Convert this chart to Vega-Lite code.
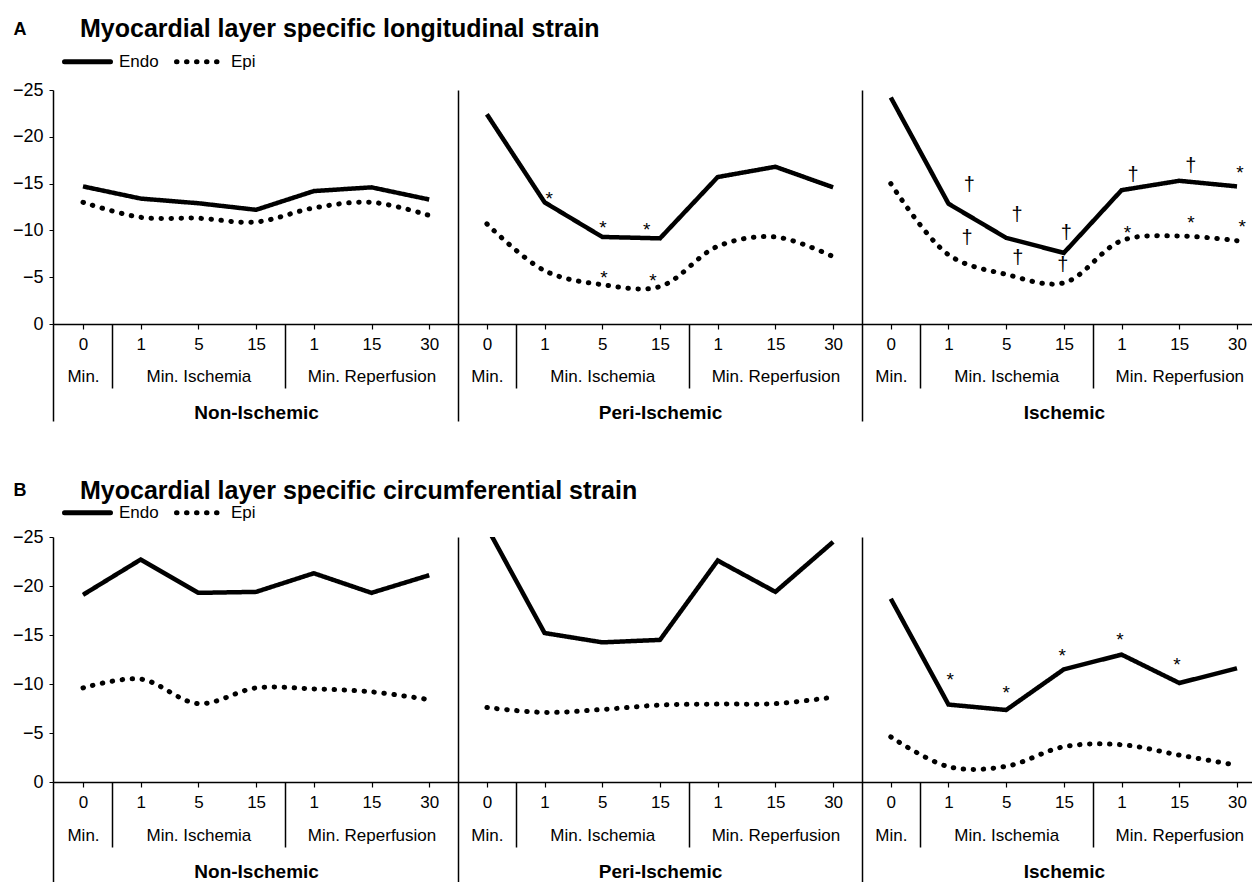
{
  "$schema": "https://vega.github.io/schema/vega-lite/v6.json",
  "padding": {"left": 12, "top": 17, "right": 0, "bottom": 0},
  "config": {
    "font": "Liberation Sans",
    "view": {"stroke": null},
    "axis": {"labelColor": "black", "tickColor": "black", "domainColor": "black"},
    "title": {"color": "black"}
  },
  "resolve": {"legend": {"strokeDash": "independent"}, "scale": {"strokeDash": "independent"}},
  "datasets": {
    "lines": [
      {"chart": "A", "panel": "Non-Ischemic", "layer": "Endo", "idx": 0, "value": -14.7},
      {"chart": "A", "panel": "Non-Ischemic", "layer": "Endo", "idx": 1, "value": -13.4},
      {"chart": "A", "panel": "Non-Ischemic", "layer": "Endo", "idx": 2, "value": -12.9},
      {"chart": "A", "panel": "Non-Ischemic", "layer": "Endo", "idx": 3, "value": -12.2},
      {"chart": "A", "panel": "Non-Ischemic", "layer": "Endo", "idx": 4, "value": -14.2},
      {"chart": "A", "panel": "Non-Ischemic", "layer": "Endo", "idx": 5, "value": -14.6},
      {"chart": "A", "panel": "Non-Ischemic", "layer": "Endo", "idx": 6, "value": -13.3},
      {"chart": "A", "panel": "Peri-Ischemic", "layer": "Endo", "idx": 7, "value": -22.4},
      {"chart": "A", "panel": "Peri-Ischemic", "layer": "Endo", "idx": 8, "value": -13.0},
      {"chart": "A", "panel": "Peri-Ischemic", "layer": "Endo", "idx": 9, "value": -9.3},
      {"chart": "A", "panel": "Peri-Ischemic", "layer": "Endo", "idx": 10, "value": -9.15},
      {"chart": "A", "panel": "Peri-Ischemic", "layer": "Endo", "idx": 11, "value": -15.7},
      {"chart": "A", "panel": "Peri-Ischemic", "layer": "Endo", "idx": 12, "value": -16.8},
      {"chart": "A", "panel": "Peri-Ischemic", "layer": "Endo", "idx": 13, "value": -14.6},
      {"chart": "A", "panel": "Ischemic", "layer": "Endo", "idx": 14, "value": -24.2},
      {"chart": "A", "panel": "Ischemic", "layer": "Endo", "idx": 15, "value": -12.85},
      {"chart": "A", "panel": "Ischemic", "layer": "Endo", "idx": 16, "value": -9.2},
      {"chart": "A", "panel": "Ischemic", "layer": "Endo", "idx": 17, "value": -7.6},
      {"chart": "A", "panel": "Ischemic", "layer": "Endo", "idx": 18, "value": -14.3},
      {"chart": "A", "panel": "Ischemic", "layer": "Endo", "idx": 19, "value": -15.3},
      {"chart": "A", "panel": "Ischemic", "layer": "Endo", "idx": 20, "value": -14.7},
      {"chart": "A", "panel": "Non-Ischemic", "layer": "Epi", "idx": 0, "value": -13.0},
      {"chart": "A", "panel": "Non-Ischemic", "layer": "Epi", "idx": 1, "value": -11.4},
      {"chart": "A", "panel": "Non-Ischemic", "layer": "Epi", "idx": 2, "value": -11.3},
      {"chart": "A", "panel": "Non-Ischemic", "layer": "Epi", "idx": 3, "value": -10.9},
      {"chart": "A", "panel": "Non-Ischemic", "layer": "Epi", "idx": 4, "value": -12.4},
      {"chart": "A", "panel": "Non-Ischemic", "layer": "Epi", "idx": 5, "value": -13.0},
      {"chart": "A", "panel": "Non-Ischemic", "layer": "Epi", "idx": 6, "value": -11.6},
      {"chart": "A", "panel": "Peri-Ischemic", "layer": "Epi", "idx": 7, "value": -10.7},
      {"chart": "A", "panel": "Peri-Ischemic", "layer": "Epi", "idx": 8, "value": -5.7},
      {"chart": "A", "panel": "Peri-Ischemic", "layer": "Epi", "idx": 9, "value": -4.2},
      {"chart": "A", "panel": "Peri-Ischemic", "layer": "Epi", "idx": 10, "value": -4.0},
      {"chart": "A", "panel": "Peri-Ischemic", "layer": "Epi", "idx": 11, "value": -8.3},
      {"chart": "A", "panel": "Peri-Ischemic", "layer": "Epi", "idx": 12, "value": -9.3},
      {"chart": "A", "panel": "Peri-Ischemic", "layer": "Epi", "idx": 13, "value": -7.2},
      {"chart": "A", "panel": "Ischemic", "layer": "Epi", "idx": 14, "value": -15.0},
      {"chart": "A", "panel": "Ischemic", "layer": "Epi", "idx": 15, "value": -7.4},
      {"chart": "A", "panel": "Ischemic", "layer": "Epi", "idx": 16, "value": -5.3},
      {"chart": "A", "panel": "Ischemic", "layer": "Epi", "idx": 17, "value": -4.4},
      {"chart": "A", "panel": "Ischemic", "layer": "Epi", "idx": 18, "value": -8.9},
      {"chart": "A", "panel": "Ischemic", "layer": "Epi", "idx": 19, "value": -9.4},
      {"chart": "A", "panel": "Ischemic", "layer": "Epi", "idx": 20, "value": -8.9},
      {"chart": "B", "panel": "Non-Ischemic", "layer": "Endo", "idx": 0, "value": -19.1},
      {"chart": "B", "panel": "Non-Ischemic", "layer": "Endo", "idx": 1, "value": -22.7},
      {"chart": "B", "panel": "Non-Ischemic", "layer": "Endo", "idx": 2, "value": -19.3},
      {"chart": "B", "panel": "Non-Ischemic", "layer": "Endo", "idx": 3, "value": -19.4},
      {"chart": "B", "panel": "Non-Ischemic", "layer": "Endo", "idx": 4, "value": -21.3},
      {"chart": "B", "panel": "Non-Ischemic", "layer": "Endo", "idx": 5, "value": -19.3},
      {"chart": "B", "panel": "Non-Ischemic", "layer": "Endo", "idx": 6, "value": -21.1},
      {"chart": "B", "panel": "Peri-Ischemic", "layer": "Endo", "idx": 7, "value": -26.0},
      {"chart": "B", "panel": "Peri-Ischemic", "layer": "Endo", "idx": 8, "value": -15.2},
      {"chart": "B", "panel": "Peri-Ischemic", "layer": "Endo", "idx": 9, "value": -14.25},
      {"chart": "B", "panel": "Peri-Ischemic", "layer": "Endo", "idx": 10, "value": -14.5},
      {"chart": "B", "panel": "Peri-Ischemic", "layer": "Endo", "idx": 11, "value": -22.6},
      {"chart": "B", "panel": "Peri-Ischemic", "layer": "Endo", "idx": 12, "value": -19.4},
      {"chart": "B", "panel": "Peri-Ischemic", "layer": "Endo", "idx": 13, "value": -24.5},
      {"chart": "B", "panel": "Ischemic", "layer": "Endo", "idx": 14, "value": -18.7},
      {"chart": "B", "panel": "Ischemic", "layer": "Endo", "idx": 15, "value": -7.9},
      {"chart": "B", "panel": "Ischemic", "layer": "Endo", "idx": 16, "value": -7.35},
      {"chart": "B", "panel": "Ischemic", "layer": "Endo", "idx": 17, "value": -11.5},
      {"chart": "B", "panel": "Ischemic", "layer": "Endo", "idx": 18, "value": -13.0},
      {"chart": "B", "panel": "Ischemic", "layer": "Endo", "idx": 19, "value": -10.1},
      {"chart": "B", "panel": "Ischemic", "layer": "Endo", "idx": 20, "value": -11.6},
      {"chart": "B", "panel": "Non-Ischemic", "layer": "Epi", "idx": 0, "value": -9.6},
      {"chart": "B", "panel": "Non-Ischemic", "layer": "Epi", "idx": 1, "value": -10.5},
      {"chart": "B", "panel": "Non-Ischemic", "layer": "Epi", "idx": 2, "value": -8.0},
      {"chart": "B", "panel": "Non-Ischemic", "layer": "Epi", "idx": 3, "value": -9.6},
      {"chart": "B", "panel": "Non-Ischemic", "layer": "Epi", "idx": 4, "value": -9.5},
      {"chart": "B", "panel": "Non-Ischemic", "layer": "Epi", "idx": 5, "value": -9.2},
      {"chart": "B", "panel": "Non-Ischemic", "layer": "Epi", "idx": 6, "value": -8.4},
      {"chart": "B", "panel": "Peri-Ischemic", "layer": "Epi", "idx": 7, "value": -7.6},
      {"chart": "B", "panel": "Peri-Ischemic", "layer": "Epi", "idx": 8, "value": -7.1},
      {"chart": "B", "panel": "Peri-Ischemic", "layer": "Epi", "idx": 9, "value": -7.4},
      {"chart": "B", "panel": "Peri-Ischemic", "layer": "Epi", "idx": 10, "value": -7.85},
      {"chart": "B", "panel": "Peri-Ischemic", "layer": "Epi", "idx": 11, "value": -7.95},
      {"chart": "B", "panel": "Peri-Ischemic", "layer": "Epi", "idx": 12, "value": -8.0},
      {"chart": "B", "panel": "Peri-Ischemic", "layer": "Epi", "idx": 13, "value": -8.65},
      {"chart": "B", "panel": "Ischemic", "layer": "Epi", "idx": 14, "value": -4.6},
      {"chart": "B", "panel": "Ischemic", "layer": "Epi", "idx": 15, "value": -1.56},
      {"chart": "B", "panel": "Ischemic", "layer": "Epi", "idx": 16, "value": -1.6},
      {"chart": "B", "panel": "Ischemic", "layer": "Epi", "idx": 17, "value": -3.6},
      {"chart": "B", "panel": "Ischemic", "layer": "Epi", "idx": 18, "value": -3.8},
      {"chart": "B", "panel": "Ischemic", "layer": "Epi", "idx": 19, "value": -2.75},
      {"chart": "B", "panel": "Ischemic", "layer": "Epi", "idx": 20, "value": -1.7}
    ],
    "marks": [
      {"chart": "A", "sym": "*", "idx": 8.08, "value": -13.9},
      {"chart": "A", "sym": "*", "idx": 9.01, "value": -10.8},
      {"chart": "A", "sym": "*", "idx": 9.77, "value": -10.6},
      {"chart": "A", "sym": "*", "idx": 9.03, "value": -5.45},
      {"chart": "A", "sym": "*", "idx": 9.88, "value": -5.1},
      {"chart": "A", "sym": "*", "idx": 20.05, "value": -16.7},
      {"chart": "A", "sym": "*", "idx": 18.1, "value": -10.3},
      {"chart": "A", "sym": "*", "idx": 19.2, "value": -11.3},
      {"chart": "A", "sym": "*", "idx": 20.09, "value": -10.9},
      {"chart": "A", "sym": "†", "idx": 15.36, "value": -14.85},
      {"chart": "A", "sym": "†", "idx": 16.19, "value": -11.6},
      {"chart": "A", "sym": "†", "idx": 17.04, "value": -9.7},
      {"chart": "A", "sym": "†", "idx": 18.2, "value": -15.9},
      {"chart": "A", "sym": "†", "idx": 19.2, "value": -16.9},
      {"chart": "A", "sym": "†", "idx": 15.32, "value": -9.2},
      {"chart": "A", "sym": "†", "idx": 16.2, "value": -7.05},
      {"chart": "A", "sym": "†", "idx": 16.98, "value": -6.3},
      {"chart": "B", "sym": "*", "idx": 15.03, "value": -10.9},
      {"chart": "B", "sym": "*", "idx": 16.0, "value": -9.6},
      {"chart": "B", "sym": "*", "idx": 16.97, "value": -13.4},
      {"chart": "B", "sym": "*", "idx": 17.97, "value": -15.0},
      {"chart": "B", "sym": "*", "idx": 18.96, "value": -12.45}
    ]
  },
  "spacing": 56,
  "vconcat": [
    {
      "title": {"text": "A", "anchor": "start", "frame": "bounds", "fontSize": 18, "fontWeight": "bold", "offset": -22, "dx": 1},
      "resolve": {"legend": {"strokeDash": "independent"}, "scale": {"strokeDash": "independent"}},
      "vconcat": [
        {
          "width": 1199,
          "height": 234,
          "title": {"text": "Myocardial layer specific longitudinal strain", "anchor": "start", "frame": "group", "dx": 27, "fontSize": 25, "fontWeight": "bold", "offset": -15},
          "layer": [
            {
              "data": {"name": "lines"},
              "transform": [{"filter": "datum.chart == 'A' && datum.layer == 'Endo'"}],
              "mark": {"type": "line", "color": "black", "strokeWidth": 4.5, "clip": true},
              "encoding": {
                "x": {"field": "idx", "type": "quantitative", "scale": {"domain": [-0.52, 20.26], "nice": false, "zero": false},
                  "axis": {"orient": "bottom", "title": null, "values": [0,1,2,3,4,5,6,7,8,9,10,11,12,13,14,15,16,17,18,19,20], "labelExpr": "['0','1','5','15','1','15','30'][datum.value % 7]", "grid": false, "domainWidth": 1.5, "tickSize": 5, "tickWidth": 1.2, "labelFontSize": 17, "labelPadding": 7, "labelFlush": false, "labelOverlap": false}},
                "y": {"field": "value", "type": "quantitative", "scale": {"domain": [-25, 0], "reverse": true, "nice": false, "zero": false},
                  "axis": {"title": null, "values": [-25,-20,-15,-10,-5,0], "labelExpr": "datum.value == 0 ? '0' : '−' + abs(datum.value)", "grid": false, "domainWidth": 1.5, "tickSize": 4, "labelPadding": 6, "labelFontSize": 18}},
                "detail": {"field": "panel"},
                "strokeDash": {"field": "layer", "type": "nominal", "scale": {"domain": ["Endo", "Epi"], "range": [[1, 0], [0.5, 9.5]]},
                  "legend": {"title": null, "orient": "top", "direction": "horizontal", "symbolType": "stroke", "symbolSize": 2116, "symbolStrokeWidth": 5, "symbolStrokeColor": "black", "labelFontSize": 17, "labelColor": "black", "labelOffset": 6, "columnPadding": 7, "offset": 9, "padding": 9, "encode": {"symbols": {"update": {"strokeCap": {"value": "round"}}}}}}
              }
            },
            {
              "data": {"name": "lines"},
              "transform": [{"filter": "datum.chart == 'A' && datum.layer == 'Epi'"}],
              "mark": {"type": "line", "color": "black", "strokeWidth": 5, "strokeCap": "round", "interpolate": "catmull-rom", "clip": true},
              "encoding": {
                "x": {"field": "idx", "type": "quantitative",
                  "axis": {"orient": "bottom", "title": null, "values": [0,2,5,7,9,12,14,16,19], "labelExpr": "['Min.','','Min. Ischemia','','','Min. Reperfusion',''][datum.value % 7]", "domain": false, "ticks": false, "grid": false, "labelFontSize": 17, "labelPadding": 44, "labelFlush": false, "labelOverlap": false}},
                "y": {"field": "value", "type": "quantitative",
                  "axis": {"title": null, "values": [-25,-20,-15,-10,-5,0], "labelExpr": "datum.value == 0 ? '0' : '−' + abs(datum.value)", "grid": false, "domainWidth": 1.5, "tickSize": 4, "labelPadding": 6, "labelFontSize": 18}},
                "detail": {"field": "panel"},
                "strokeDash": {"field": "layer", "type": "nominal"}
              }
            },
            {
              "data": {"name": "marks"},
              "transform": [{"filter": "datum.chart == 'A' && datum.sym == '†'"}],
              "mark": {"type": "text", "color": "black", "fontSize": 20, "baseline": "middle"},
              "encoding": {
                "x": {"field": "idx", "type": "quantitative",
                  "axis": {"orient": "bottom", "title": null, "values": [-0.52, 0.5, 3.5, 6.5, 7.5, 10.5, 13.5, 14.5, 17.5], "labels": false, "domain": false, "ticks": true, "tickWidth": 1.5,
                    "tickSize": {"condition": {"test": "datum.value < 0 || datum.value == 6.5 || datum.value == 13.5", "value": 97}, "value": 64},
                    "grid": true, "gridColor": "black", "gridWidth": 1.5,
                    "gridOpacity": {"condition": {"test": "datum.value == 6.5 || datum.value == 13.5", "value": 1}, "value": 0}}},
                "y": {"field": "value", "type": "quantitative",
                  "axis": {"title": null, "values": [-25,-20,-15,-10,-5,0], "labelExpr": "datum.value == 0 ? '0' : '−' + abs(datum.value)", "grid": false, "domainWidth": 1.5, "tickSize": 4, "labelPadding": 6, "labelFontSize": 18}},
                "text": {"field": "sym"}
              }
            },
            {
              "data": {"name": "marks"},
              "transform": [{"filter": "datum.chart == 'A' && datum.sym == '*'"}],
              "mark": {"type": "text", "color": "black", "fontSize": 19, "baseline": "middle", "dy": 5},
              "encoding": {
                "x": {"field": "idx", "type": "quantitative",
                  "axis": {"orient": "bottom", "title": null, "values": [3, 10, 17], "labelExpr": "datum.value == 3 ? 'Non-Ischemic' : datum.value == 10 ? 'Peri-Ischemic' : 'Ischemic'", "domain": false, "ticks": false, "grid": false, "labelFontSize": 19, "labelFontWeight": "bold", "labelPadding": 79, "labelFlush": false, "labelOverlap": false}},
                "y": {"field": "value", "type": "quantitative",
                  "axis": {"title": null, "values": [-25,-20,-15,-10,-5,0], "labelExpr": "datum.value == 0 ? '0' : '−' + abs(datum.value)", "grid": false, "domainWidth": 1.5, "tickSize": 4, "labelPadding": 6, "labelFontSize": 18}},
                "text": {"field": "sym"}
              }
            }
          ],
          "resolve": {"axis": {"x": "independent"}}
        }
      ]
    },
    {
      "title": {"text": "B", "anchor": "start", "frame": "bounds", "fontSize": 18, "fontWeight": "bold", "offset": -22, "dx": 1},
      "resolve": {"legend": {"strokeDash": "independent"}, "scale": {"strokeDash": "independent"}},
      "vconcat": [
        {
          "width": 1199,
          "height": 245,
          "title": {"text": "Myocardial layer specific circumferential strain", "anchor": "start", "frame": "group", "dx": 27, "fontSize": 25, "fontWeight": "bold", "offset": -26},
          "layer": [
            {
              "data": {"name": "lines"},
              "transform": [{"filter": "datum.chart == 'B' && datum.layer == 'Endo'"}],
              "mark": {"type": "line", "color": "black", "strokeWidth": 4.5, "clip": true},
              "encoding": {
                "x": {"field": "idx", "type": "quantitative", "scale": {"domain": [-0.52, 20.26], "nice": false, "zero": false},
                  "axis": {"orient": "bottom", "title": null, "values": [0,1,2,3,4,5,6,7,8,9,10,11,12,13,14,15,16,17,18,19,20], "labelExpr": "['0','1','5','15','1','15','30'][datum.value % 7]", "grid": false, "domainWidth": 1.5, "tickSize": 5, "tickWidth": 1.2, "labelFontSize": 17, "labelPadding": 7, "labelFlush": false, "labelOverlap": false}},
                "y": {"field": "value", "type": "quantitative", "scale": {"domain": [-25, 0], "reverse": true, "nice": false, "zero": false},
                  "axis": {"title": null, "values": [-25,-20,-15,-10,-5,0], "labelExpr": "datum.value == 0 ? '0' : '−' + abs(datum.value)", "grid": false, "domainWidth": 1.5, "tickSize": 4, "labelPadding": 6, "labelFontSize": 18}},
                "detail": {"field": "panel"},
                "strokeDash": {"field": "layer", "type": "nominal", "scale": {"domain": ["Endo", "Epi"], "range": [[1, 0], [0.5, 9.5]]},
                  "legend": {"title": null, "orient": "top", "direction": "horizontal", "symbolType": "stroke", "symbolSize": 2116, "symbolStrokeWidth": 5, "symbolStrokeColor": "black", "labelFontSize": 17, "labelColor": "black", "labelOffset": 6, "columnPadding": 7, "offset": 5, "padding": 9, "encode": {"symbols": {"update": {"strokeCap": {"value": "round"}}}}}}
              }
            },
            {
              "data": {"name": "lines"},
              "transform": [{"filter": "datum.chart == 'B' && datum.layer == 'Epi'"}],
              "mark": {"type": "line", "color": "black", "strokeWidth": 5, "strokeCap": "round", "interpolate": "catmull-rom", "clip": true},
              "encoding": {
                "x": {"field": "idx", "type": "quantitative",
                  "axis": {"orient": "bottom", "title": null, "values": [0,2,5,7,9,12,14,16,19], "labelExpr": "['Min.','','Min. Ischemia','','','Min. Reperfusion',''][datum.value % 7]", "domain": false, "ticks": false, "grid": false, "labelFontSize": 17, "labelPadding": 45, "labelFlush": false, "labelOverlap": false}},
                "y": {"field": "value", "type": "quantitative",
                  "axis": {"title": null, "values": [-25,-20,-15,-10,-5,0], "labelExpr": "datum.value == 0 ? '0' : '−' + abs(datum.value)", "grid": false, "domainWidth": 1.5, "tickSize": 4, "labelPadding": 6, "labelFontSize": 18}},
                "detail": {"field": "panel"},
                "strokeDash": {"field": "layer", "type": "nominal"}
              }
            },
            {
              "data": {"name": "marks"},
              "transform": [{"filter": "datum.chart == 'B' && datum.sym == '†'"}],
              "mark": {"type": "text", "color": "black", "fontSize": 20, "baseline": "middle"},
              "encoding": {
                "x": {"field": "idx", "type": "quantitative",
                  "axis": {"orient": "bottom", "title": null, "values": [-0.52, 0.5, 3.5, 6.5, 7.5, 10.5, 13.5, 14.5, 17.5], "labels": false, "domain": false, "ticks": true, "tickWidth": 1.5,
                    "tickSize": {"condition": {"test": "datum.value < 0 || datum.value == 6.5 || datum.value == 13.5", "value": 100}, "value": 65},
                    "grid": true, "gridColor": "black", "gridWidth": 1.5,
                    "gridOpacity": {"condition": {"test": "datum.value == 6.5 || datum.value == 13.5", "value": 1}, "value": 0}}},
                "y": {"field": "value", "type": "quantitative",
                  "axis": {"title": null, "values": [-25,-20,-15,-10,-5,0], "labelExpr": "datum.value == 0 ? '0' : '−' + abs(datum.value)", "grid": false, "domainWidth": 1.5, "tickSize": 4, "labelPadding": 6, "labelFontSize": 18}},
                "text": {"field": "sym"}
              }
            },
            {
              "data": {"name": "marks"},
              "transform": [{"filter": "datum.chart == 'B' && datum.sym == '*'"}],
              "mark": {"type": "text", "color": "black", "fontSize": 19, "baseline": "middle", "dy": 5},
              "encoding": {
                "x": {"field": "idx", "type": "quantitative",
                  "axis": {"orient": "bottom", "title": null, "values": [3, 10, 17], "labelExpr": "datum.value == 3 ? 'Non-Ischemic' : datum.value == 10 ? 'Peri-Ischemic' : 'Ischemic'", "domain": false, "ticks": false, "grid": false, "labelFontSize": 19, "labelFontWeight": "bold", "labelPadding": 80, "labelFlush": false, "labelOverlap": false}},
                "y": {"field": "value", "type": "quantitative",
                  "axis": {"title": null, "values": [-25,-20,-15,-10,-5,0], "labelExpr": "datum.value == 0 ? '0' : '−' + abs(datum.value)", "grid": false, "domainWidth": 1.5, "tickSize": 4, "labelPadding": 6, "labelFontSize": 18}},
                "text": {"field": "sym"}
              }
            }
          ],
          "resolve": {"axis": {"x": "independent"}}
        }
      ]
    }
  ]
}
